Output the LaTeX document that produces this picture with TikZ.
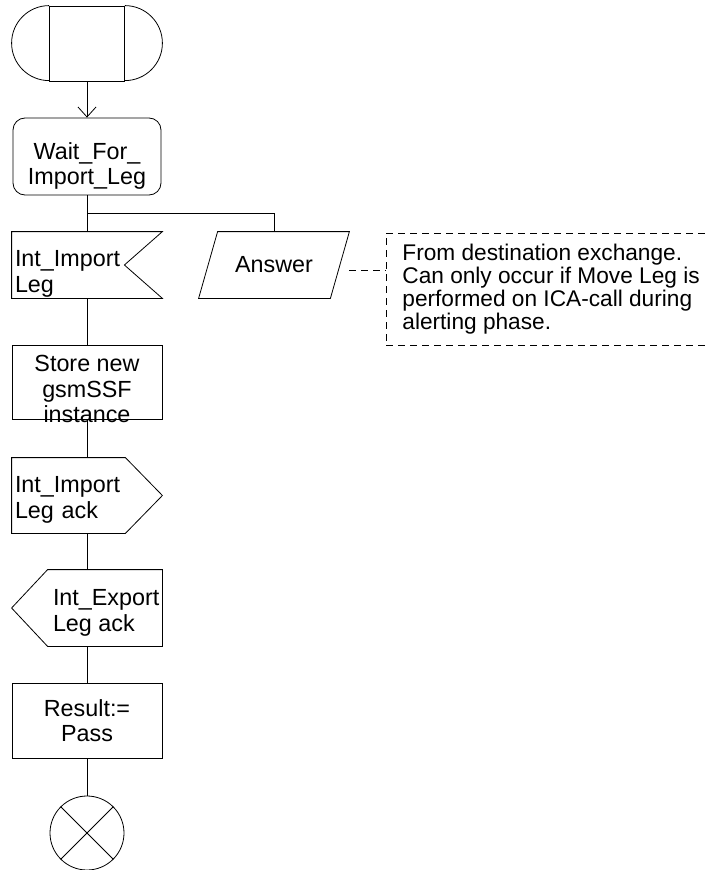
\documentclass[tikz,border=0pt]{standalone}
\usepackage{fontspec}
\setmainfont{Liberation Sans}
\usepackage{tikz}
\usetikzlibrary{arrows.meta, calc}

\tikzset{
  sdlline/.style={line width=0.6pt},
  sdltext/.style={font=\fontsize{17.5}{19.2}\selectfont},
  statebox/.style={draw, sdltext, rectangle, rounded corners=9pt, minimum width=111pt, minimum height=57.75pt, align=center, inner sep=2pt},
  taskbox/.style={draw, sdltext, rectangle, minimum width=112.5pt, minimum height=55.5pt, align=center},
  sigbox/.style={sdltext, rectangle, minimum width=112.5pt, text width=108pt, inner xsep=2.25pt, inner ysep=0pt, align=left},
  notedash/.style={dash pattern=on 5.25pt off 3.75pt},
}

\begin{document}
\begin{tikzpicture}[x=0.75pt, y=0.75pt, sdlline]
  \useasboundingbox (0,0) rectangle (704,-870);

  % Draw start symbol.
  \node [draw, minimum width=56.25pt, minimum height=56.25pt] (start) at (87,-43.5) {};
  \draw (start.north west) arc (90:270:28.125pt);
  \draw (start.north east) arc (90:-90:28.125pt);

  % Draw state.
  \node [statebox] (wait) at (87,-156.5) {\rule{0pt}{27pt}Wait\_For\_\\Import\_Leg};
  \draw [arrows={-{Straight Barb[length=7.5pt, width=13.5pt]}}] (start) -- (wait);

  % Draw the two inputs.
  \coordinate (branch) at (87,-213);
  \node [sigbox, minimum height=49.5pt] (recv) at (87,-265) {\rule{0pt}{25.5pt}Int\_Import\\Leg};
  \draw (recv.north west) -- (recv.north east) -- ($(recv.east)+(-38,0)$) -- (recv.south east) -- (recv.south west) -- cycle;

  \node [sdltext, minimum width=112.5pt, minimum height=49.5pt] (answer) at (274,-265) {Answer};
  \draw ($(answer.north west)+(19,0)$) -- (answer.north east) -- ($(answer.south east)+(-19,0)$) -- (answer.south west) -- cycle;

  \draw (wait) -- (recv);
  \draw (branch) -| (answer);

  % Draw comment.
  \node [minimum width=238.5pt, minimum height=84pt, anchor=north west] (note) at (386,-233) {};
  \draw [notedash] (note.north east) -- (note.north west) -- (note.south west) -- (note.south east);
  \node [font=\fontsize{17}{17.25}\selectfont, align=left, inner sep=0pt, anchor=north west] (notetext) at (402,-244)
    {From destination exchange.\\Can only occur if Move Leg is\\performed on ICA-call during\\alerting phase.};
  \coordinate (dashend) at (386,-270);
  \draw [notedash] (answer.east |- dashend) -- (dashend);

  % Draw task and outputs.
  \node [draw, minimum width=112.5pt, minimum height=55.5pt] (store) at (87,-382) {};
  \node [sdltext, align=center] (storetext) at (87,-389) {Store new\\gsmSSF\\instance};
  \draw (recv) -- (store);

  \node [sigbox, minimum height=56.25pt] (sendack) at (87,-495.5) {\rule{0pt}{18.5pt}Int\_Import\\Leg ack};
  \draw (sendack.north west) -- ($(sendack.north east)+(-37,0)$) -- (sendack.east) -- ($(sendack.south east)+(-37,0)$) -- (sendack.south west) -- cycle;
  \draw (store) -- (sendack);

  \node [minimum width=112.5pt, minimum height=57pt] (exportack) at (87,-608) {};
  \draw (exportack.west) -- ($(exportack.north west)+(36,0)$) -- (exportack.north east) -- (exportack.south east) -- ($(exportack.south west)+(36,0)$) -- cycle;
  \node [sdltext, align=left, anchor=west, inner sep=0pt] (exporttext) at ($(exportack.west)+(41,-5)$) {Int\_Export\\Leg ack};
  \draw (sendack) -- (exportack);

  \node [taskbox, minimum height=56.25pt] (result) at (87,-720.5) {Result:=\\Pass};
  \draw (exportack) -- (result);

  % Draw stop symbol.
  \node [draw, circle, minimum size=55.5pt, inner sep=0pt] (stop) at (87,-833) {};
  \draw (stop.north west) -- (stop.south east);
  \draw (stop.north east) -- (stop.south west);
  \draw (result) -- (stop);
\end{tikzpicture}
\end{document}
